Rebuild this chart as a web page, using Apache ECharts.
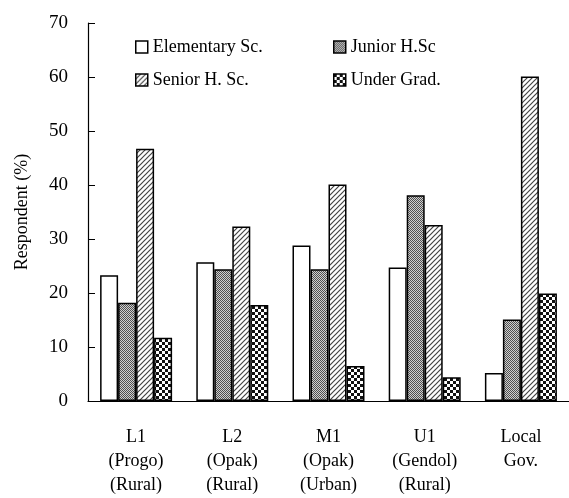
<!DOCTYPE html>
<html>
<head>
<meta charset="utf-8">
<script src="https://cdn.jsdelivr.net/npm/echarts@6/dist/echarts.min.js"></script>
<style>
  body { margin: 0; background: #fff; }
  #main { width: 569px; height: 498px; }
</style>
</head>
<body>
<div id="main"></div>
<script>
// data
const categories = ['L1\n(Progo)\n(Rural)', 'L2\n(Opak)\n(Rural)', 'M1\n(Opak)\n(Urban)', 'U1\n(Gendol)\n(Rural)', 'Local\nGov.'];
const elementary = [23.3, 25.7, 28.8, 24.7, 5.2];
const juniorHS = [18.2, 24.4, 24.4, 38.1, 15.1];
const seniorHS = [46.7, 32.3, 40.1, 32.6, 60.1];
const underGrad = [11.7, 17.8, 6.5, 4.4, 19.9];
const yTicks = [0, 10, 20, 30, 40, 50, 60, 70];

const FONT = '"Liberation Serif", "Times New Roman", serif';

// little canvas fills for the hatch patterns
function makePattern(size, draw) {
  const c = document.createElement('canvas');
  c.width = size; c.height = size;
  const ctx = c.getContext('2d');
  ctx.fillStyle = '#fff';
  ctx.fillRect(0, 0, size, size);
  draw(ctx, size);
  return { image: c, repeat: 'repeat' };
}

const dotFill = makePattern(2, function (ctx) {
  ctx.fillStyle = '#cfcfcf';
  ctx.fillRect(0, 0, 2, 2);
  ctx.fillStyle = '#505050';
  ctx.fillRect(0, 0, 1, 1);
  ctx.fillRect(1, 1, 1, 1);
});

const hatchFill = makePattern(5, function (ctx, s) {
  ctx.strokeStyle = '#444';
  ctx.lineWidth = 1.2;
  ctx.beginPath();
  ctx.moveTo(-1, s + 1); ctx.lineTo(s + 1, -1);
  ctx.moveTo(-1, 1); ctx.lineTo(1, -1);
  ctx.moveTo(s - 1, s + 1); ctx.lineTo(s + 1, s - 1);
  ctx.stroke();
});

// checkerboard
const checkFill = makePattern(6, function (ctx) {
  ctx.fillStyle = '#111';
  ctx.fillRect(0, 0, 3, 3);
  ctx.fillRect(3, 3, 3, 3);
});

function barSeries(name, data, fill) {
  return {
    name: name,
    type: 'bar',
    data: data,
    barWidth: 18,
    barGap: '0%',
    itemStyle: { color: fill, borderColor: '#000', borderWidth: 1.5 },
    emphasis: { disabled: true }
  };
}

const legendText = { fontFamily: FONT, fontSize: 18, color: '#000', lineHeight: 18 };

const chart = echarts.init(document.getElementById('main'));
chart.setOption({
  animation: false,
  backgroundColor: '#fff',
  grid: { left: 88, top: 23, width: 487, bottom: 97 },
  legend: [
    {
      data: ['Elementary Sc.', 'Senior H. Sc.'],
      orient: 'vertical', left: 130, top: 33, itemGap: 15, icon: 'rect',
      itemWidth: 12, itemHeight: 12, textStyle: legendText,
      itemStyle: { borderColor: '#000', borderWidth: 1.5 }
    },
    {
      data: ['Junior H.Sc', 'Under Grad.'],
      orient: 'vertical', left: 328, top: 33, itemGap: 15, icon: 'rect',
      itemWidth: 12, itemHeight: 12, textStyle: legendText,
      itemStyle: { borderColor: '#000', borderWidth: 1.5 }
    }
  ],
  xAxis: {
    type: 'category',
    data: categories,
    axisLine: { lineStyle: { color: '#000', width: 1.2 } },
    axisTick: { inside: true, length: 5, lineStyle: { color: '#000' } },
    axisLabel: { fontFamily: FONT, fontSize: 18, color: '#000', lineHeight: 24, margin: 24 }
  },
  yAxis: {
    type: 'value',
    min: yTicks[0],
    max: yTicks[yTicks.length - 1],
    interval: 10,
    name: 'Respondent (%)',
    nameLocation: 'middle',
    nameRotate: 90,
    nameGap: 57,
    nameTextStyle: { fontFamily: FONT, fontSize: 18, color: '#000' },
    axisLine: { show: true, lineStyle: { color: '#000', width: 1.2 } },
    axisTick: { show: true, inside: true, length: 7, lineStyle: { color: '#000' } },
    splitLine: { show: false },
    axisLabel: { fontFamily: FONT, fontSize: 19, color: '#000', margin: 20 }
  },
  series: [
    barSeries('Elementary Sc.', elementary, '#fff'),
    barSeries('Junior H.Sc', juniorHS, dotFill),
    barSeries('Senior H. Sc.', seniorHS, hatchFill),
    barSeries('Under Grad.', underGrad, checkFill)
  ]
});
</script>
</body>
</html>
